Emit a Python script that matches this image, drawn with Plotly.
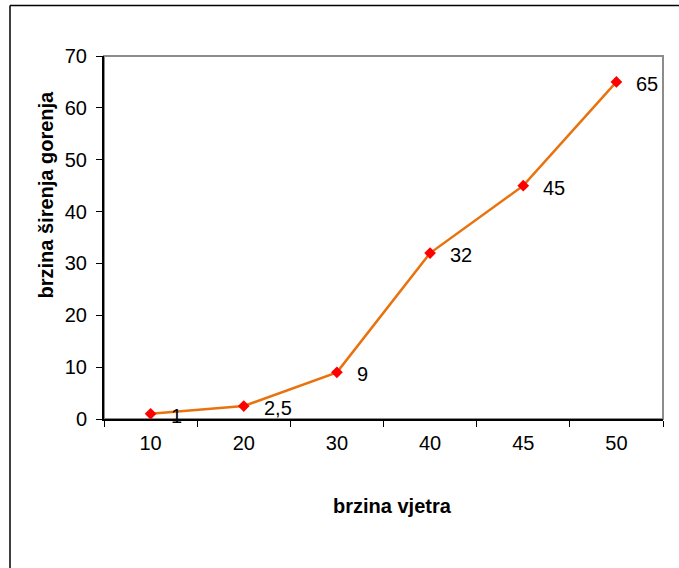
import plotly.graph_objects as go

categories = ["10", "20", "30", "40", "45", "50"]
values = [1, 2.5, 9, 32, 45, 65]
value_labels = ["1", "2,5", "9", "32", "45", "65"]
y_ticks = [0, 10, 20, 30, 40, 50, 60, 70]

W, H = 679, 568
ml, mr, mt, mb = 104, 16, 56, 149
pw, ph = W - ml - mr, H - mt - mb

FONT = "Liberation Sans, Arial, sans-serif"


def px(xp):
    return (xp - ml) / pw


def py(yp):
    return (H - mb - yp) / ph


fig = go.Figure()
fig.add_trace(go.Scatter(
    x=categories, y=values, mode="lines+markers",
    line=dict(color="#E8730E", width=2.5),
    marker=dict(symbol="diamond", size=9, color="#FF0000"),
    hoverinfo="skip", showlegend=False,
))

for i, (v, t) in enumerate(zip(values, value_labels)):
    fig.add_annotation(x=i, y=v, text=t, showarrow=False, xanchor="left",
                       yanchor="middle", xshift=18, yshift=-2,
                       font=dict(family=FONT, size=20, color="#000"))

fig.add_annotation(xref="paper", yref="paper", x=px(392), y=py(506),
                   xanchor="center", yanchor="middle",
                   text="<b>brzina vjetra</b>", showarrow=False,
                   font=dict(family=FONT, size=20, color="#000"))
fig.add_annotation(xref="paper", yref="paper", x=px(45.5), y=py(195),
                   xanchor="center", yanchor="middle",
                   text="<b>brzina širenja gorenja</b>", showarrow=False, textangle=-90,
                   font=dict(family=FONT, size=20, color="#000"))

# plot area border (gray top/right)
fig.add_shape(type="rect", xref="paper", yref="paper", x0=0, y0=0, x1=1, y1=1,
              line=dict(color="#8C8C8C", width=2), layer="below")
# outer chart border (left and top edges visible)
fig.add_shape(type="line", xref="paper", yref="paper",
              x0=px(10), y0=py(5.5), x1=px(690), y1=py(5.5),
              line=dict(color="#000", width=1.5))
fig.add_shape(type="line", xref="paper", yref="paper",
              x0=px(10), y0=py(5.5), x1=px(10), y1=py(580),
              line=dict(color="#000", width=1.5))

fig.update_layout(
    width=W, height=H,
    margin=dict(l=ml, r=mr, t=mt, b=mb),
    paper_bgcolor="white", plot_bgcolor="white",
    font=dict(family=FONT, size=20, color="#000"),
    xaxis=dict(type="category", range=[-0.5, 5.5], showline=True, linecolor="#000",
               linewidth=2, ticks="outside", tickson="boundaries", ticklen=6,
               tickcolor="#000", showgrid=False, zeroline=False,
               tickfont=dict(size=20), ticklabelstandoff=5),
    yaxis=dict(range=[0, 70], tickvals=y_ticks, showline=True, linecolor="#000",
               linewidth=2, ticks="outside", ticklen=6, tickcolor="#000",
               showgrid=False, zeroline=False, tickfont=dict(size=20),
               ticklabelstandoff=5),
)

fig.write_html("out.html", config={"displayModeBar": False},
               post_script="document.body.style.margin='0';document.body.style.overflow='hidden';")
